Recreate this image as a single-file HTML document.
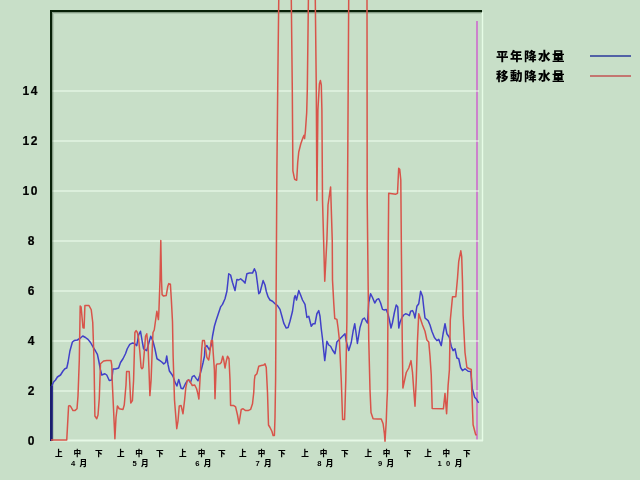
<!DOCTYPE html>
<html><head><meta charset="utf-8">
<style>
html,body{margin:0;padding:0;background:#c8dfc8;}
body{width:640px;height:480px;overflow:hidden;position:relative;}
svg{position:absolute;left:0;top:0;}
.t{font-family:"Liberation Sans","Noto Sans CJK JP",sans-serif;font-weight:bold;fill:#000;}
.j{font-family:"Liberation Sans","Noto Sans CJK JP",sans-serif;font-weight:bold;fill:#000;}
</style></head><body>
<svg width="640" height="480" viewBox="0 0 640 480">
<line x1="477" y1="21" x2="477" y2="441" stroke="#cc82cc" stroke-width="2"/>
<g stroke="#f0fff0" stroke-opacity="0.5" stroke-width="2" fill="none"><line x1="52" y1="91" x2="479" y2="91"/><line x1="52" y1="141" x2="479" y2="141"/><line x1="52" y1="191" x2="479" y2="191"/><line x1="52" y1="241" x2="479" y2="241"/><line x1="52" y1="291" x2="479" y2="291"/><line x1="52" y1="341" x2="479" y2="341"/><line x1="52" y1="391" x2="479" y2="391"/></g>
<line x1="52" y1="440.5" x2="483" y2="440.5" stroke="#e6f8e6" stroke-width="2"/>
<line x1="482.5" y1="12" x2="482.5" y2="441" stroke="#e6fce6" stroke-width="1.4"/>
<path d="M52.5 441V12.5H482" stroke="#082008" stroke-opacity="0.35" stroke-width="1" fill="none"/>
<path d="M53.5 441V13.5H481" stroke="#082008" stroke-opacity="0.12" stroke-width="1" fill="none"/>
<path d="M51 441V11H482" stroke="#072007" stroke-width="2" fill="none"/>
<polyline points="51.5,441 52.2,385 53.6,382 55.5,380 57.4,377 60.5,375 63,371 64.9,368.75 66.75,368 68,362.5 69.9,351 72.4,342 74.25,340.6 77.4,340 80.5,338 82.75,336 85.5,337.5 88,339.4 90.5,342.5 93,346.9 95.5,351 97.4,354.4 98.6,360 100.5,370 101.75,375 104.9,373.75 106.75,375 109.25,380.5 111.75,380 113,369 115.5,369 118.6,368 120.5,362.5 123,358.75 125.5,353.75 127.25,348.75 129.75,344.4 132.25,343.1 134.5,343.5 136.75,345.6 138.6,335 140.5,331.25 142.4,342.5 143.6,348.75 146.75,350.6 148.6,343.75 150.75,336.25 153,341.25 154.9,348.75 157,358.75 159.9,360.6 161.75,362 163.75,363.9 165.6,362.5 166.75,356 168,364.4 169.4,371 171.7,374.2 173.1,376.6 175,382.2 176.9,386 178.75,379.4 181.1,388.3 183,388.75 185.3,384 187.2,380.8 188.6,379.8 190.5,382.6 192.3,376.6 194.2,375.6 196.1,378.4 198,380.8 199.4,376.6 201.25,370 203.1,362.5 204.5,356 205,347.5 206.9,345.6 209.4,350 211.25,345 212.5,336.25 214.4,326.25 216.25,320 218.75,312.5 220.6,306.9 222.5,304.4 225,298.75 226.9,291.25 228.75,273.75 230.6,275 232.5,282.5 235,290.6 236.9,279.4 238.75,280 240.6,278.75 242.75,280.6 245,283.1 246.9,273.75 249.4,273.1 252.5,273.1 254.4,268.75 256,272.5 257.5,283.75 258.75,293.75 260,292.5 263.1,280.6 265,285 266.25,291.25 268.1,296.9 270,300 272.5,301.25 275,303.75 277.5,305.6 280,309.4 281.9,316.25 283.75,323.1 286.25,328.1 288.1,327.5 290,321.25 292.5,311.25 294.4,297.5 295.25,295.6 296.5,300 298.75,290.6 300.6,295 302.5,300 305,304.4 306.9,317.5 308.75,316.25 311.25,326.25 313.1,323.75 315,323.75 316.9,313.75 318.75,310.6 320,316.25 321.25,328.75 322.5,338.75 323.1,345 324.75,360.6 325.6,353.75 326.9,341.25 328.75,345 330.6,346.25 332.5,350 335,353.75 336.9,341.9 338.75,340 341.25,337.5 343.75,335 345,333.75 346.25,341.25 348.75,350.6 351.25,342.5 353.1,331.25 354.75,323.75 356.2,334 357.4,343.5 360,327.5 362.5,319.4 364.4,318 366.25,321.25 367.5,323 368.75,302.5 370.6,293.75 372.5,297.5 374.75,303 376.9,299.4 378.75,298.75 380.6,303 382.5,309.4 384.4,310 386.25,309.4 388.1,314.4 389.4,320 391,328 392.5,322.5 394.4,312.5 396.25,305 397.75,306.9 398.75,328 400,322.5 401.9,317.5 403.75,315 405.6,313.75 407.5,314.4 409.4,315.6 410.6,311.25 412.5,310.6 413.75,313 415,318 416.9,306.25 418.75,303.75 420.6,291.25 422.5,296.25 423.75,307.5 425,318 428.1,320.6 430,325 431.9,331.25 434.4,337.5 436.9,340.6 438.75,339.4 441.25,345.6 443.1,333.75 445,323.75 446.9,333.75 449.4,337.5 451.25,346.25 453.1,350.6 455,348.75 456.9,358 458.75,358.75 460.6,367.5 462.5,370.6 465,368.75 468.1,371.25 470.8,371.6 472.3,388.75 474.7,397.3 476.25,398.9 478.6,402.8" fill="none" stroke="#4040c8" stroke-width="1.5" stroke-linejoin="round"/>
<line x1="51.3" y1="441" x2="51.3" y2="386" stroke="#1a1e6e" stroke-width="2.6"/>
<polyline points="51,440 66.75,440 68.6,406 69.9,405.6 71,407 73,410.6 74.9,410.6 77,408.75 78,396 79.3,360 80.2,306 81.1,307 83,327.75 84.1,328 84.9,305.6 89,305.6 91.25,309.75 92.75,322.5 94,360 94.9,416 96.75,418.75 98,415 99.25,398.75 100.5,363.75 103.6,361 106.75,360.6 111,360.6 111.75,365 112.4,385 114.9,438.75 116,417.5 117.4,406 119.25,408.75 123,409.4 124.25,405 126,385 126.6,371.5 129.2,371.5 130.75,403 132.4,400.6 133.6,380 134.9,332.5 136.1,330.6 137.4,332.5 138.6,338.75 139.9,352.5 141.1,367.5 142,368.75 143,367.5 144.25,352.5 145.5,336.25 146.75,333.75 148,345 149,370 149.9,395.6 151.1,380 152.4,345 153,332.5 154.25,330 156.85,311.25 158.4,319.6 158.9,311.25 160,280 160.8,240.4 161.5,280 162.1,294.6 163.6,296.1 166.2,295.6 167.8,286.25 168.8,283.6 170.4,284.2 171.4,300.8 172.5,321.7 173.1,355 174.5,400 176.75,428.75 178,421 179.25,406 181.1,405.6 183,413.75 184.6,400 185.8,387.8 187.2,380.8 188.6,379.8 190,381.25 190.9,383.1 192.3,385.5 194.7,385 196.6,388.75 198,394.4 198.9,399 199.8,383.1 200.8,364.4 201.75,348.75 202.5,340.6 204.4,340.6 205.6,348.75 206.9,357.5 208.75,360 210,351.25 211.25,340.6 212.5,340.6 213.1,351.25 214.4,370 215,398.75 216.25,365.3 216.9,364 220,363.75 221.25,362.5 222.75,356.25 223.75,360 225,368 226.25,361.25 227.5,356.25 229,358.75 230,380 230.6,405.6 233.75,405.6 235.6,406.9 237.5,415 239,423.75 240,417.5 241.25,409.4 243.1,408.75 245.6,410.6 248.1,410.6 250.6,409.4 252.5,403.75 253.75,392.5 254.4,380 255,375.6 256.9,373.75 258.75,366.25 261.25,365.6 263.75,365 265,363.75 266.25,367.5 267.5,392.5 268.5,425 270,427.5 271.9,431.25 273.1,435.6 274.4,435.6 275,417.5 275.6,380 276.9,170 277.8,80 278.75,0 279.5,-40 291,-40 291.3,0 292.3,90 292.9,170.8 294.6,179.2 296.7,180.2 297.7,162.5 298.75,152 300.8,143.75 303,137.5 304,135.4 304.6,138.5 305.4,131.25 306.7,112.5 307.3,90 308.4,0 309,-40 315,-40 315.3,0 316.3,90 316.9,200.6 317.9,110 319.4,84 320.4,80.5 321.3,85 321.9,110 322.5,200 324.75,281.25 326.9,240 328,205 330.6,186.9 332.25,240 332.5,280 333.75,303 334.75,318.5 336.9,319.4 338.1,328 339.4,340 341.25,380 342.6,419.5 344.6,419.5 345.8,380 346.9,320 347.5,200 348.7,0 349.3,-40 366.5,-40 367,0 367.2,200 368.75,340 370,390 371,412.5 373.1,418.75 377.5,419 381.25,419 383.1,423.75 384.4,433.75 385,441.25 386.25,421.25 386.9,402.5 387.5,390 388.3,240 388.7,193.3 395.8,194.2 397.5,193.3 398.7,168.3 399.7,169.2 400.8,180 401.3,240 402.25,340 402.9,388 406.25,372.5 408.75,368 411,360.6 412.5,372.5 413.75,390 415,406.25 416.25,380 417.5,340 418.75,313.75 420,317.5 422.5,325 425,331.25 426.9,340 428.75,341.9 430,356.25 431.25,375 432.2,408.5 443.4,408.8 445,393.4 446.6,413.75 448.1,385.6 449.4,370 450.3,320 452.5,296.7 455.8,296.7 457.5,278.3 458.7,261.7 460.8,250.8 461.7,256.7 462.5,281.7 463.1,315 465,352.5 466.9,367.5 469.4,368.75 471.25,369.4 471.6,385.6 473.1,424.7 475.5,434 476.5,435.5" fill="none" stroke="#d8544a" stroke-width="1.5" stroke-linejoin="round"/>
<g font-family="'Liberation Sans','Noto Sans CJK JP',sans-serif" font-weight="bold" font-size="12" fill="#000" stroke="#000" stroke-width="0.2"><text x="22.6" y="95" letter-spacing="1.6">14</text><text x="22.6" y="145" letter-spacing="1.6">12</text><text x="22.6" y="195" letter-spacing="1.6">10</text><text x="27.8" y="245">8</text><text x="27.8" y="295">6</text><text x="27.8" y="345">4</text><text x="27.8" y="395">2</text><text x="27.8" y="445">0</text></g>
<g class="j" font-size="7.6" style="font-weight:900"><text x="55" y="456">上</text><text x="73.4" y="456">中</text><text x="95" y="456">下</text><text x="117" y="456">上</text><text x="135.3" y="456">中</text><text x="155.9" y="456">下</text><text x="179" y="456">上</text><text x="197.7" y="456">中</text><text x="218" y="456">下</text><text x="239" y="456">上</text><text x="257.7" y="456">中</text><text x="278" y="456">下</text><text x="301.2" y="456">上</text><text x="319.7" y="456">中</text><text x="341" y="456">下</text><text x="364.6" y="456">上</text><text x="382.7" y="456">中</text><text x="403.7" y="456">下</text><text x="424.2" y="456">上</text><text x="442.6" y="456">中</text><text x="463" y="456">下</text><text x="71" y="466" letter-spacing="4.3">4月</text><text x="132.4" y="466" letter-spacing="4.3">5月</text><text x="195.2" y="466" letter-spacing="4.3">6月</text><text x="255.6" y="466" letter-spacing="4.3">7月</text><text x="317.3" y="466" letter-spacing="4.3">8月</text><text x="378" y="466" letter-spacing="4.3">9月</text><text x="437.6" y="466" letter-spacing="4.3">10月</text></g>
<g class="j" font-size="12.5" letter-spacing="1.5" style="font-weight:900"><text x="496" y="61">平年降水量</text><text x="496" y="81">移動降水量</text></g>
<line x1="590" y1="56" x2="631" y2="56" stroke="#5262a6" stroke-width="2"/>
<line x1="590" y1="76" x2="631" y2="76" stroke="#c47670" stroke-width="2"/>
</svg>
</body></html>
